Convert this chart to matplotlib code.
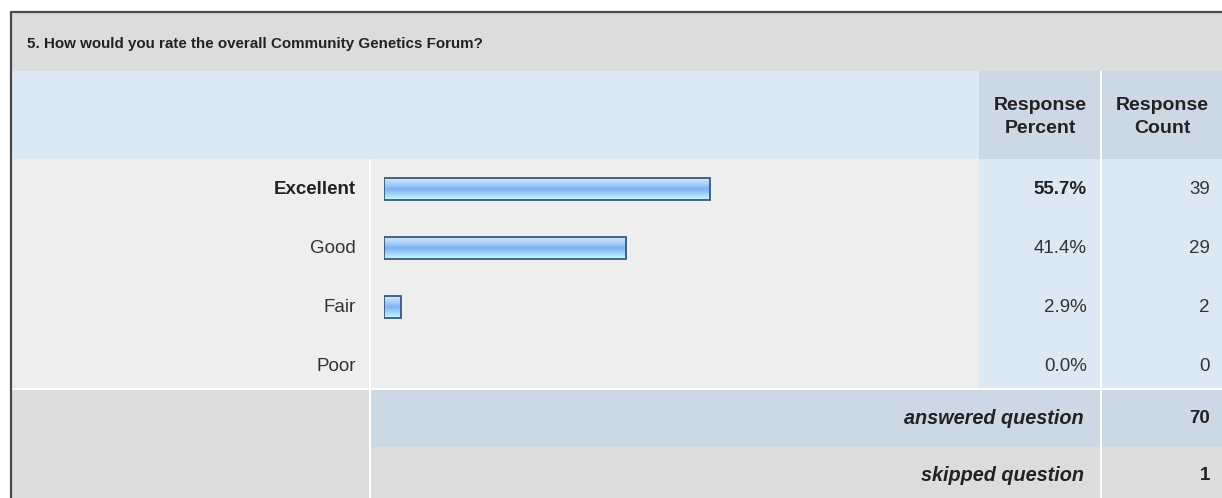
import numpy as np
import matplotlib
matplotlib.use("Agg")
import matplotlib.pyplot as plt
from matplotlib.colors import LinearSegmentedColormap

# survey data
title = "5. How would you rate the overall Community Genetics Forum?"
categories = ["Excellent", "Good", "Fair", "Poor"]
percents = [55.7, 41.4, 2.9, 0.0]
counts = [39, 29, 2, 0]
answered = 70
skipped = 1

plt.rcParams['font.family'] = ['Liberation Sans', 'DejaVu Sans']

W, H = 1222, 498
fig = plt.figure(figsize=(W / 100, H / 100), dpi=100)
fig.patch.set_facecolor('white')

# layout axes in pixel units
ax = fig.add_axes([0, 0, 1, 1])
ax.set_xlim(0, W)
ax.set_ylim(H, 0)
ax.axis('off')

def box(x0, y0, x1, y1, color):
    ax.add_patch(plt.Rectangle((x0, y0), x1 - x0, y1 - y0, facecolor=color,
                               edgecolor='none', zorder=1))

gray = '#dcdcdc'
light = '#eeeeee'
blue = '#dde8f5'
blue2 = '#cdd8e5'
txt = '#222222'

# title band
box(12, 13, W, 71, gray)
ax.text(27, 44, title, fontsize=10.9, fontweight='bold', color=txt, va='center', ha='left', zorder=3)

# header band
box(12, 71, 979, 159, blue)
box(979, 71, 1100, 159, blue2)
box(1102, 71, W, 159, blue2)
ax.text(1040, 117, "Response\nPercent", fontsize=14, fontweight='bold', color=txt,
        ha='center', va='center', linespacing=1.5, zorder=3)
ax.text(1162, 117, "Response\nCount", fontsize=14, fontweight='bold', color=txt,
        ha='center', va='center', linespacing=1.5, zorder=3)

# rows
box(12, 159, 369, 388, light)
box(371, 159, 979, 388, light)
box(979, 159, 1100, 388, blue)
box(1102, 159, W, 388, blue)

row0, pitch = 189, 59
for i, (cat, p, c) in enumerate(zip(categories, percents, counts)):
    y = row0 + pitch * i
    top = i == int(np.argmax(percents))
    w = 'bold' if top else 'normal'
    col = txt if top else '#333333'
    ax.text(356, y, cat, fontsize=13.5, fontweight=w, color=col, ha='right', va='center', zorder=3)
    ax.text(1087, y, f"{p:.1f}%", fontsize=13.5, fontweight=w, color=col, ha='right', va='center', zorder=3)
    ax.text(1210, y, str(c), fontsize=13.5, color='#333333', ha='right', va='center', zorder=3)

# summary rows
box(12, 390, 369, 447, gray)
box(371, 390, 1100, 447, blue2)
box(1102, 390, W, 447, blue2)
box(12, 447, 369, H, gray)
box(371, 447, 1100, H, gray)
box(1102, 447, W, H, gray)
ax.text(1084, 418, "answered question", fontsize=14.3, fontweight='bold', style='italic',
        color=txt, ha='right', va='center', zorder=3)
ax.text(1210, 418, str(answered), fontsize=13.5, fontweight='bold', color=txt, ha='right', va='center', zorder=3)
ax.text(1084, 475, "skipped question", fontsize=14.3, fontweight='bold', style='italic',
        color=txt, ha='right', va='center', zorder=3)
ax.text(1210, 475, str(skipped), fontsize=13.5, fontweight='bold', color=txt, ha='right', va='center', zorder=3)

# outer border (left and top)
ax.plot([11, 11, W], [H, 12, 12], color='#4a4a4a', lw=1.6, zorder=4, solid_capstyle='butt')

# bar axes: 0-100% across the bar area
bx = fig.add_axes([384 / W, 1 - 388 / H, (969 - 384) / W, (388 - 159) / H])
ylims = ((388 - row0) / pitch, (159 - row0) / pitch)

grad = LinearSegmentedColormap.from_list('bar', [
    (0.0, '#d2e8fd'), (0.3, '#a4cdf8'), (0.5, '#7db2f3'),
    (0.75, '#a2d6fb'), (1.0, '#c6fdff')])
g = np.linspace(0, 1, 64)[:, None]
bh = 22 / pitch
ypos = np.arange(len(categories))
for i, p in zip(ypos, percents):
    if p <= 0:
        continue
    bx.imshow(g, cmap=grad, aspect='auto', origin='lower', interpolation='bilinear',
              extent=(0, p, i - bh / 2, i + bh / 2), zorder=2)
bars = bx.barh(ypos, percents, height=bh, color='none', edgecolor='#3b5878', linewidth=1.3, zorder=3)
for b, p in zip(bars, percents):
    if p <= 0:
        b.set_visible(False)
bx.set_xlim(0, 100)
bx.set_ylim(*ylims)
bx.axis('off')

fig.savefig('out.png', dpi=100, facecolor='white')
